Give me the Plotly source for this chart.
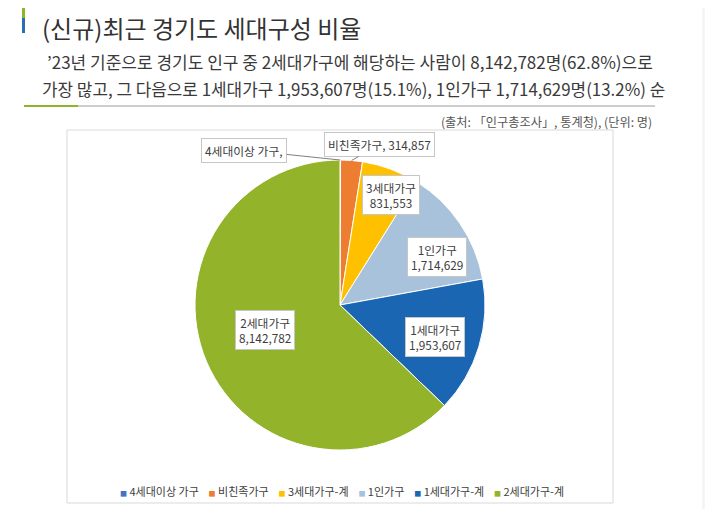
import math
import plotly.graph_objects as go

# data (from the chart)
legend_names = ["4세대이상 가구", "비친족가구", "3세대가구-계", "1인가구", "1세대가구-계", "2세대가구-계"]
label_names = ["4세대이상 가구", "비친족가구", "3세대가구", "1인가구", "1세대가구", "2세대가구"]
people = [8000, 314857, 831553, 1714629, 1953607, 8142782]
colors = ["#4472C4", "#ED7D31", "#FFC000", "#A7C2DA", "#1A66B2", "#93B32A"]

# page body keeps an 8px margin, so the figure is drawn a bit smaller
OFF = 8
W, H = 713 - OFF, 509 - OFF
FONT = "Noto Sans CJK KR"

def px(x):
    return (x - OFF) / W

def py(y):
    return 1 - (y - OFF) / H

# pie geometry in screen pixels
cx, cy, R = 340, 305, 145

fig = go.Figure()
fig.add_trace(go.Pie(
    labels=legend_names, values=people, sort=False, direction="clockwise", rotation=0,
    marker=dict(colors=colors, line=dict(color="white", width=1)),
    textinfo="none", showlegend=False, hoverinfo="label+value+percent",
    domain=dict(x=[px(cx - R), px(cx + R)], y=[py(cy + R), py(cy - R)]),
))

# label positions derived from slice angles
total = sum(people)
mids = []
acc = 0
for v in people:
    mids.append((acc + v / 2) / total * 360)
    acc += v

nudge = [0, 0, 4.5, 8, 2, 4.5]
rfrac = [1, 1, 0.84, 0.745, 0.69, 0.545]
box = dict(bgcolor="white", bordercolor="#c6c6c6", borderwidth=1, borderpad=3,
           font=dict(family=FONT, size=11.8, color="#404040"))
annotations = []
for i in range(2, 6):
    a = math.radians(mids[i] + nudge[i])
    r = R * rfrac[i]
    x = cx + r * math.sin(a)
    y = cy - r * math.cos(a)
    annotations.append(dict(x=px(x), y=py(y), xref="paper", yref="paper", showarrow=False,
                            text=f"{label_names[i]}<br>{people[i]:,}", **box))

# outside labels with leader lines
for i, (axo, ayo, txt) in enumerate([(-96, -10, label_names[0] + ","),
                                      (28, -16, f"{label_names[1]}, {people[1]:,}")]):
    a = math.radians(mids[i])
    annotations.append(dict(x=px(cx + R * math.sin(a)), y=py(cy - R * math.cos(a)),
                            xref="paper", yref="paper", showarrow=True, arrowhead=0,
                            arrowwidth=1, arrowcolor="#7f7f7f", ax=axo, ay=ayo,
                            text=txt, **box))

# compact legend as one line of text
gap = "\u00a0" * 4
legend_text = gap.join(
    f"<span style='color:{c};font-size:7px'>■</span>\u00a0{n}" for n, c in zip(legend_names, colors)
)
annotations.append(dict(x=px(342), y=py(491), xref="paper", yref="paper", showarrow=False,
                        xanchor="center", yanchor="middle", text=legend_text,
                        font=dict(family=FONT, size=11, color="#404040")))

# page text
annotations += [
    dict(x=px(41), y=py(8.5), xref="paper", yref="paper", xanchor="left", yanchor="top",
         showarrow=False, text="(신규)최근 경기도 세대구성 비율", borderpad=0,
         font=dict(family=FONT, size=24, color="#333333")),
    dict(x=px(45), y=py(62), xref="paper", yref="paper", xanchor="left", yanchor="middle",
         showarrow=False,
         text="’23년 기준으로 경기도 인구 중 2세대가구에 해당하는 사람이 8,142,782명(62.8%)으로",
         font=dict(family=FONT, size=17, color="#3a3a3a")),
    dict(x=px(40), y=py(88), xref="paper", yref="paper", xanchor="left", yanchor="middle",
         showarrow=False,
         text="가장 많고, 그 다음으로 1세대가구 1,953,607명(15.1%), 1인가구 1,714,629명(13.2%) 순",
         font=dict(family=FONT, size=16.9, color="#3a3a3a")),
    dict(x=px(654), y=py(122), xref="paper", yref="paper", xanchor="right", yanchor="middle",
         showarrow=False, text="(출처: 「인구총조사」, 통계청), (단위: 명)",
         font=dict(family=FONT, size=12.2, color="#555555")),
]

shapes = [
    dict(type="rect", xref="paper", yref="paper", x0=px(702), x1=1, y0=0, y1=1,
         fillcolor="#f3f6f7", line_width=0, layer="below"),
    dict(type="rect", xref="paper", yref="paper", x0=px(67), x1=px(613), y0=py(503), y1=py(130),
         fillcolor="white", line=dict(color="#d9d9d9", width=1), layer="below"),
    dict(type="rect", xref="paper", yref="paper", x0=px(22), x1=px(25), y0=py(18), y1=py(8),
         fillcolor="#8DB42A", line_width=0),
    dict(type="rect", xref="paper", yref="paper", x0=px(22), x1=px(25), y0=py(33), y1=py(18),
         fillcolor="#2A6EB4", line_width=0),
    dict(type="line", xref="paper", yref="paper", x0=px(24), x1=px(655), y0=py(106), y1=py(106),
         line=dict(color="#9a9a9a", width=1)),
    dict(type="line", xref="paper", yref="paper", x0=px(24), x1=px(78), y0=py(106), y1=py(106),
         line=dict(color="#8DB42A", width=2)),
]

fig.update_layout(
    width=W, height=H, margin=dict(l=0, r=0, t=0, b=0),
    paper_bgcolor="white", plot_bgcolor="rgba(0,0,0,0)",
    xaxis=dict(visible=False), yaxis=dict(visible=False),
    annotations=annotations, shapes=shapes, showlegend=False,
    font=dict(family=FONT),
)

fig.write_html("out.html")
